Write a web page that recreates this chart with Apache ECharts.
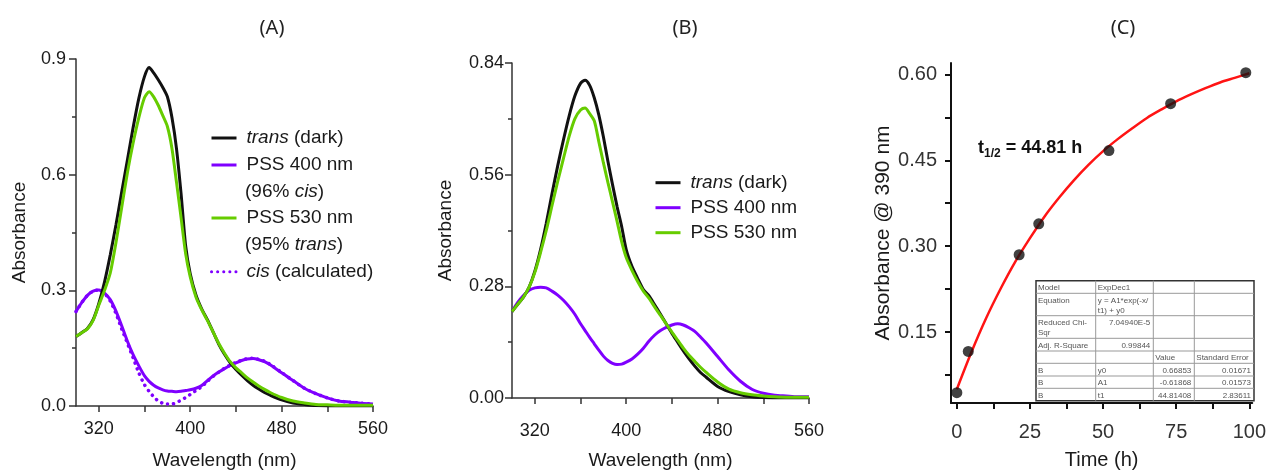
<!DOCTYPE html>
<html>
<head>
<meta charset="utf-8">
<script src="https://cdn.jsdelivr.net/npm/echarts@6/dist/echarts.min.js"></script>
<style>
  html, body { margin: 0; padding: 0; background: #fff; }
  #chart { width: 1269px; height: 475px; }
</style>
</head>
<body>
<div id="chart"></div>
<script>
// wavelength grid (nm) shared by panels A and B
var wavelengths = [300, 305, 310, 315, 320, 325, 330, 335, 340, 345, 350, 355, 360, 364, 368, 372, 376, 380, 384, 388, 392, 396,
  400, 405, 410, 415, 420, 425, 430, 435, 440, 445, 450, 455, 460, 465, 470, 480, 490, 500, 510, 520, 530, 540, 550, 560]

// panel A
var aTrans = [0.180, 0.190, 0.201, 0.224, 0.266, 0.322, 0.392, 0.470, 0.555, 0.638, 0.722, 0.798, 0.855, 0.878, 0.864, 0.846, 0.826, 0.802, 0.748, 0.667, 0.550, 0.415,
  0.343, 0.288, 0.252, 0.224, 0.192, 0.160, 0.134, 0.112, 0.095, 0.080, 0.066, 0.054, 0.044, 0.035, 0.028, 0.016, 0.008, 0.004, 0.001, 0, 0, 0, 0, 0]
var aPss530 = [0.180, 0.190, 0.200, 0.222, 0.262, 0.300, 0.345, 0.424, 0.515, 0.605, 0.682, 0.748, 0.800, 0.815, 0.802, 0.780, 0.753, 0.725, 0.668, 0.580, 0.488, 0.395,
  0.335, 0.283, 0.250, 0.222, 0.192, 0.162, 0.137, 0.115, 0.099, 0.086, 0.073, 0.062, 0.052, 0.043, 0.035, 0.022, 0.013, 0.008, 0.004, 0.003, 0.002, 0.002, 0.002, 0.002]
var aPss400 = [0.245, 0.268, 0.287, 0.298, 0.301, 0.293, 0.276, 0.246, 0.208, 0.168, 0.133, 0.104, 0.078, 0.064, 0.054, 0.047, 0.042, 0.039, 0.038, 0.037, 0.038, 0.040,
  0.042, 0.046, 0.053, 0.066, 0.078, 0.088, 0.097, 0.105, 0.112, 0.118, 0.122, 0.123, 0.120, 0.115, 0.107, 0.086, 0.066, 0.046, 0.032, 0.021, 0.013, 0.010, 0.007, 0.005]
var aCisCalc = [0.245, 0.268, 0.287, 0.298, 0.301, 0.292, 0.272, 0.240, 0.200, 0.163, 0.125, 0.086, 0.055, 0.038, 0.024, 0.013, 0.007, 0.005, 0.005, 0.009, 0.015, 0.022,
  0.030, 0.040, 0.050, 0.064, 0.077, 0.088, 0.098, 0.106, 0.113, 0.119, 0.123, 0.124, 0.121, 0.116, 0.108, 0.087, 0.066, 0.046, 0.032, 0.021, 0.013, 0.010, 0.007, 0.005]

// panel B
var bTrans = [0.217, 0.235, 0.253, 0.278, 0.318, 0.372, 0.438, 0.512, 0.582, 0.647, 0.707, 0.757, 0.789, 0.797, 0.784, 0.753, 0.710, 0.655, 0.593, 0.535, 0.480, 0.430,
  0.372, 0.330, 0.300, 0.272, 0.256, 0.233, 0.210, 0.186, 0.162, 0.140, 0.118, 0.098, 0.080, 0.064, 0.052, 0.029, 0.016, 0.008, 0.003, 0.001, 0, 0, 0, 0]
var bPss530 = [0.217, 0.235, 0.253, 0.278, 0.315, 0.365, 0.420, 0.482, 0.543, 0.600, 0.656, 0.700, 0.722, 0.727, 0.713, 0.695, 0.643, 0.590, 0.540, 0.492, 0.443, 0.392,
  0.352, 0.320, 0.292, 0.268, 0.250, 0.228, 0.207, 0.186, 0.165, 0.145, 0.125, 0.107, 0.092, 0.077, 0.064, 0.040, 0.022, 0.013, 0.008, 0.005, 0.003, 0.002, 0.002, 0.002]
var bPss400 = [0.217, 0.240, 0.257, 0.270, 0.276, 0.278, 0.276, 0.268, 0.258, 0.245, 0.229, 0.210, 0.186, 0.169, 0.152, 0.136, 0.120, 0.105, 0.094, 0.087, 0.084, 0.085,
  0.090, 0.098, 0.110, 0.125, 0.143, 0.158, 0.169, 0.177, 0.183, 0.186, 0.183, 0.176, 0.167, 0.153, 0.138, 0.104, 0.070, 0.042, 0.022, 0.012, 0.007, 0.005, 0.003, 0.003]

// panel C
var timeHours = [0, 3.9, 21.3, 28, 52, 73.1, 98.8]
var absorb390 = [0.044, 0.116, 0.285, 0.339, 0.467, 0.549, 0.603]
var fitTime = [0, 5, 10, 15, 20, 25, 30, 35, 40, 45, 50, 55, 60, 65, 70, 75, 80, 85, 90, 95, 100]
var fitAbs = [0.050, 0.115, 0.174, 0.226, 0.273, 0.314, 0.352, 0.385, 0.415, 0.442, 0.466, 0.487, 0.506, 0.524, 0.539, 0.553, 0.565, 0.576, 0.586, 0.594, 0.602]

// tick labels
var wlLabels = [320, 400, 480, 560]
var wlTicks = [320, 360, 400, 440, 480, 520, 560]
var timeLabels = [0, 25, 50, 75, 100]
var timeTicks = [0, 12.5, 25, 37.5, 50, 62.5, 75, 87.5, 100]
var absCLabels = [0.15, 0.30, 0.45, 0.60]
var absCTicks = [0.075, 0.15, 0.225, 0.30, 0.375, 0.45, 0.525, 0.60]

// fit table text
var tableCells = [
  ['Model', 'ExpDec1', '', ''],
  ['Equation', 'y = A1*exp(-x/\nt1) + y0', '', ''],
  ['Reduced Chi-\nSqr', '7.04940E-5', '', ''],
  ['Adj. R-Square', '0.99844', '', ''],
  ['', '', 'Value', 'Standard Error'],
  ['B', 'y0', '0.66853', '0.01671'],
  ['B', 'A1', '-0.61868', '0.01573'],
  ['B', 't1', '44.81408', '2.83611']
]

var chart = echarts.init(document.getElementById('chart'))

var font = '"Liberation Sans", Arial, sans-serif'
var txt = '#1a1a1a'
var purple = '#7f00ff', green = '#66cc00', black = '#111111', red = '#ff1414'

function pairs(xs, ys) {
  return xs.map(function (x, i) { return [x, ys[i]] })
}

function spectrum(name, idx, ys, color, dotted) {
  return {
    name: name, type: 'line', xAxisIndex: idx, yAxisIndex: idx,
    data: pairs(wavelengths, ys),
    symbol: 'none', smooth: 0.25, silent: true,
    lineStyle: dotted
      ? { color: color, width: 3.5, type: [0.1, 6], cap: 'round' }
      : { color: color, width: 3 }
  }
}

function wlAxis(idx, margin, nameGap) {
  return {
    type: 'value', gridIndex: idx, min: 300, max: 560,
    name: 'Wavelength (nm)', nameLocation: 'middle', nameGap: nameGap,
    nameTextStyle: { fontSize: 19, color: txt, fontFamily: font },
    axisLine: { show: true, onZero: false, lineStyle: { color: '#333', width: 1.5 } },
    axisTick: { show: true, length: 6, customValues: wlTicks, lineStyle: { color: '#333', width: 1.5 } },
    axisLabel: { customValues: wlLabels, fontSize: 18, color: txt, fontFamily: font, margin: margin },
    splitLine: { show: false }
  }
}

function absAxis(idx, max, step, digits, margin, nameGap) {
  return {
    type: 'value', gridIndex: idx, min: 0, max: max, interval: step,
    name: 'Absorbance', nameLocation: 'middle', nameGap: nameGap,
    nameTextStyle: { fontSize: 19, color: txt, fontFamily: font },
    axisLine: { show: true, onZero: false, lineStyle: { color: '#333', width: 1.5 } },
    axisTick: { show: true, length: 7, lineStyle: { color: '#333', width: 1.5 } },
    minorTick: { show: true, splitNumber: 2, length: 4, lineStyle: { color: '#333', width: 1.5 } },
    axisLabel: {
      fontSize: 18, color: txt, fontFamily: font, margin: margin,
      formatter: function (v) { return v.toFixed(digits) }
    },
    splitLine: { show: false }, minorSplitLine: { show: false }
  }
}

var legendNames = {
  'trans (dark)': '{i|trans} (dark)',
  'PSS 400 nm': 'PSS 400 nm',
  'PSS 530 nm': 'PSS 530 nm',
  'cis (calculated)': '{i|cis} (calculated)'
}
var richText = {
  i: { fontStyle: 'italic', fontSize: 19, fontFamily: font, color: txt }
}

function legendBox(names, left, top, gap) {
  return {
    data: names, orient: 'vertical', left: left, top: top, padding: 0,
    itemWidth: 25, itemHeight: 14, itemGap: gap, selectedMode: false,
    itemStyle: { opacity: 0 },
    lineStyle: { width: 3 },
    textStyle: { fontSize: 19, fontFamily: font, color: txt, padding: [0, 0, 0, 5], rich: richText },
    formatter: function (n) { return legendNames[n] }
  }
}

// fit-table drawing
var colX = [1036, 1095.7, 1153.3, 1194.3, 1254]
var rowY = [280.7, 293.3, 315.7, 338.3, 351, 363.3, 376, 388.3, 400.7]
var graphics = []
graphics.push({
  type: 'rect', z: 20,
  shape: { x: colX[0], y: rowY[0], width: colX[4] - colX[0], height: rowY[8] - rowY[0] },
  style: { fill: '#fff', stroke: '#333', lineWidth: 1.5 }
})
for (var r = 1; r < rowY.length - 1; r++) {
  graphics.push({ type: 'line', z: 21, shape: { x1: colX[0], y1: rowY[r], x2: colX[4], y2: rowY[r] }, style: { stroke: '#999', lineWidth: 1 } })
}
for (var c = 1; c < colX.length - 1; c++) {
  graphics.push({ type: 'line', z: 21, shape: { x1: colX[c], y1: rowY[0], x2: colX[c], y2: rowY[8] }, style: { stroke: '#999', lineWidth: 1 } })
}
tableCells.forEach(function (row, ri) {
  row.forEach(function (s, ci) {
    if (!s) return
    var numeric = /^-?[0-9]/.test(s) && ci > 0
    graphics.push({
      type: 'text', z: 22,
      x: numeric ? colX[ci + 1] - 3 : colX[ci] + 2,
      y: rowY[ri] + 2,
      style: {
        text: s, fill: '#555', fontSize: 8, fontFamily: font, lineHeight: 10,
        align: numeric ? 'right' : 'left', verticalAlign: 'top'
      }
    })
  })
})

// panel titles
;[['(A)', 272], ['(B)', 685], ['(C)', 1123]].forEach(function (t) {
  graphics.push({
    type: 'text', x: t[1], y: 28,
    style: { text: t[0], fill: '#222', fontSize: 20, fontFamily: '"Noto Sans", sans-serif', align: 'center', verticalAlign: 'middle' }
  })
})

// second lines of the two-line legend entries in A
;[['(96% {i|cis})', 191.7], ['(95% {i|trans})', 245]].forEach(function (t) {
  graphics.push({
    type: 'text', x: 245, y: t[1],
    style: {
      text: t[0], fill: txt, fontSize: 19, fontFamily: font, verticalAlign: 'middle',
      rich: { i: { fontStyle: 'italic', fontSize: 19, fontFamily: font, fill: txt } }
    }
  })
})

// half-life annotation
graphics.push({
  type: 'text', x: 978, y: 148,
  style: {
    text: '{b|t}{s|1/2}{b| = 44.81 h}', verticalAlign: 'middle',
    rich: {
      b: { fontSize: 18, fontWeight: 'bold', fontFamily: font, fill: '#111', lineHeight: 24 },
      s: { fontSize: 12, fontWeight: 'bold', fontFamily: font, fill: '#111', verticalAlign: 'bottom' }
    }
  }
})

var option = {
  backgroundColor: '#fff',
  animation: false,
  grid: [
    { left: 76, top: 59, width: 297, height: 348 },
    { left: 512, top: 63, width: 297, height: 341 },
    { left: 951, top: 63, width: 305, height: 346 }
  ],
  xAxis: [
    wlAxis(0, 14, 45),
    wlAxis(1, 24, 53),
    {
      type: 'value', gridIndex: 2, min: -2, max: 101,
      name: 'Time (h)', nameLocation: 'middle', nameGap: 47,
      nameTextStyle: { fontSize: 20, color: txt, fontFamily: font },
      axisLine: { show: true, onZero: false, lineStyle: { color: '#111', width: 2 } },
      axisTick: { show: true, length: 6, customValues: timeTicks, lineStyle: { color: '#111', width: 2 } },
      axisLabel: { customValues: timeLabels, fontSize: 20, color: '#333', fontFamily: font, margin: 19 },
      splitLine: { show: false }
    }
  ],
  yAxis: [
    absAxis(0, 0.9, 0.3, 1, 10, 47),
    absAxis(1, 0.84, 0.28, 2, 8, 57),
    {
      type: 'value', gridIndex: 2, min: 0.026, max: 0.62,
      name: 'Absorbance @ 390 nm', nameLocation: 'middle', nameGap: 56,
      nameTextStyle: { fontSize: 21, color: txt, fontFamily: font },
      axisLine: { show: true, onZero: false, lineStyle: { color: '#111', width: 2 } },
      axisTick: { show: true, length: 6, customValues: absCTicks, lineStyle: { color: '#111', width: 2 } },
      axisLabel: {
        customValues: absCLabels, fontSize: 20, color: '#333', fontFamily: font, margin: 14,
        formatter: function (v) { return v.toFixed(2) }
      },
      splitLine: { show: false }
    }
  ],
  legend: [
    legendBox(['trans (dark)'], 210, 138 - 9.5, 0),
    legendBox(['PSS 400 nm'], 210, 165 - 9.5, 0),
    legendBox(['PSS 530 nm'], 210, 218 - 9.5, 0),
    legendBox(['cis (calculated)'], 210, 271.7 - 9.5, 0),
    legendBox(['trans (dark)', 'PSS 400 nm', 'PSS 530 nm'], 654, 182.7 - 9.5, 6)
  ],
  graphic: graphics,
  series: [
    spectrum('cis (calculated)', 0, aCisCalc, purple, true),
    spectrum('PSS 400 nm', 0, aPss400, purple),
    spectrum('trans (dark)', 0, aTrans, black),
    spectrum('PSS 530 nm', 0, aPss530, green),
    spectrum('PSS 400 nm', 1, bPss400, purple),
    spectrum('trans (dark)', 1, bTrans, black),
    spectrum('PSS 530 nm', 1, bPss530, green),
    {
      name: 'ExpDec1 fit', type: 'line', xAxisIndex: 2, yAxisIndex: 2,
      data: pairs(fitTime, fitAbs), symbol: 'none', smooth: 0.3, silent: true,
      lineStyle: { color: red, width: 2.5 }
    },
    {
      name: 'measured', type: 'scatter', xAxisIndex: 2, yAxisIndex: 2,
      data: pairs(timeHours, absorb390), symbol: 'circle', symbolSize: 11, silent: true,
      itemStyle: { color: '#111' }, z: 5
    }
  ]
}

chart.setOption(option)
</script>
</body>
</html>
